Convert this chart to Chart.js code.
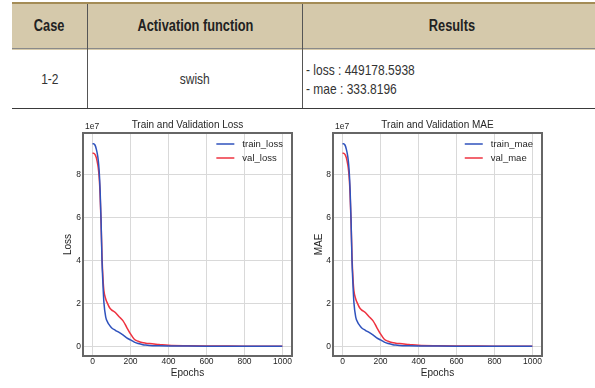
<!DOCTYPE html>
<html>
<head>
<meta charset="utf-8">
<script src="https://cdn.jsdelivr.net/npm/chart.js@4.4.1/dist/chart.umd.min.js"></script>
<style>
  body { margin: 0; width: 595px; height: 388px; background: #fff; position: relative; overflow: hidden;
         font-family: "Liberation Sans", Arial, sans-serif; color: #2a2a2a; }
  .abs { position: absolute; }
  .hdr { left: 12px; top: 2px; width: 590px; height: 46px; background: #d5c9ab; border-top: 2px solid #a48c56; }
  .sep { left: 12px; top: 48px; width: 590px; height: 1px; background: #8a8a8a; }
  .bot { left: 12px; top: 108px; width: 590px; height: 1px; background: #3a3a3a; }
  .vl { top: 4px; width: 1px; height: 104px; background: #555; }
  .cell { display: flex; align-items: center; justify-content: center; }
  .nar { display: inline-block; transform: scaleX(0.8); transform-origin: center; white-space: nowrap; }
  .th { font-weight: bold; font-size: 16px; color: #222; }
  .td { font-size: 15px; color: #333; }
  canvas { position: absolute; top: 110px; }
</style>
</head>
<body>
<div class="abs hdr"></div>
<div class="abs sep"></div>
<div class="abs bot"></div>
<div class="abs vl" style="left:87px"></div>
<div class="abs vl" style="left:302px"></div>

<div class="abs cell th" style="left:12px;top:4px;width:75px;height:44px"><span class="nar">Case</span></div>
<div class="abs cell th" style="left:88px;top:4px;width:214px;height:44px"><span class="nar">Activation function</span></div>
<div class="abs cell th" style="left:303px;top:4px;width:297px;height:44px"><span class="nar">Results</span></div>

<div class="abs cell td" style="left:12px;top:49px;width:75px;height:59px"><span class="nar">1-2</span></div>
<div class="abs cell td" style="left:88px;top:49px;width:214px;height:59px"><span class="nar">swish</span></div>
<div class="abs td" style="left:306px;top:60px;line-height:19px"><span class="nar" style="transform-origin:left">- loss : 449178.5938<br>- mae : 333.8196</span></div>

<canvas id="lossChart" width="305" height="278" style="left:0px"></canvas>
<canvas id="maeChart" width="290" height="278" style="left:305px"></canvas>

<script>
// données (valeurs brutes, axe en 1e7)
var epochs = [0, 5, 10, 15, 20, 25, 30, 35, 40, 45, 50, 55, 60, 70, 80, 90, 100, 120, 140, 160, 180, 200, 220, 240, 260, 280, 300, 350, 400, 500, 600, 700, 800, 900, 999];
var trainLoss = [9.45e7, 9.45e7, 9.42e7, 9.35e7, 9.2e7, 9.0e7, 8.7e7, 8.2e7, 7.3e7, 5.9e7, 4.0e7, 2.9e7, 2.05e7, 1.35e7, 1.12e7, 0.98e7, 0.87e7, 0.75e7, 0.65e7, 0.53e7, 0.40e7, 0.30e7, 0.20e7, 0.13e7, 0.09e7, 0.06e7, 0.045e7, 0.03e7, 0.02e7, 0.012e7, 0.008e7, 0.006e7, 0.005e7, 0.004e7, 0.004e7];
var valLoss = [9.0e7, 9.0e7, 8.98e7, 8.92e7, 8.8e7, 8.6e7, 8.35e7, 7.9e7, 7.1e7, 5.8e7, 4.2e7, 3.2e7, 2.6e7, 2.2e7, 1.98e7, 1.8e7, 1.7e7, 1.58e7, 1.38e7, 1.2e7, 0.89e7, 0.58e7, 0.33e7, 0.24e7, 0.18e7, 0.15e7, 0.13e7, 0.09e7, 0.05e7, 0.025e7, 0.015e7, 0.012e7, 0.01e7, 0.009e7, 0.008e7];
var trainMae = trainLoss.slice(); // les deux graphiques sont identiques
var valMae = valLoss.slice();
var xTicks = [0, 200, 400, 600, 800, 1000];
var yTicks = [0, 2e7, 4e7, 6e7, 8e7];

var txt = '#262626';
var sans = '"Liberation Sans", Arial, sans-serif';

// cadre, titre, "1e7" et légende dessinés à la main (style matplotlib)
var framePlugin = {
    id: 'frame',
    afterDraw: function(chart, args, opts) {
        var ctx = chart.ctx;
        var a = chart.chartArea;
        ctx.save();
        ctx.strokeStyle = '#666';
        ctx.lineWidth = 2;
        ctx.strokeRect(a.left, a.top, a.right - a.left, a.bottom - a.top);

        ctx.fillStyle = txt;
        ctx.font = '8.5px ' + sans;
        ctx.textAlign = 'left';
        ctx.textBaseline = 'bottom';
        ctx.fillText('1e7', a.left + 2, a.top - 2);

        ctx.font = '10px ' + sans;
        ctx.textAlign = 'center';
        ctx.textBaseline = 'middle';
        ctx.fillText(opts.title, (a.left + a.right) / 2, a.top - 8);

        // légende
        ctx.font = '9.5px ' + sans;
        var ds = chart.data.datasets;
        var w = Math.max.apply(null, ds.map(function(d) { return ctx.measureText(d.label).width; }));
        var tx = a.right - 9 - w;
        ds.forEach(function(d, i) {
            var y = a.top + 11 + i * 14;
            ctx.strokeStyle = d.borderColor;
            ctx.lineWidth = 1.5;
            ctx.beginPath();
            ctx.moveTo(tx - 26, y);
            ctx.lineTo(tx - 8, y);
            ctx.stroke();
            ctx.fillStyle = txt;
            ctx.textAlign = 'left';
            ctx.fillText(d.label, tx, y);
        });
        ctx.restore();
    }
};

function makeChart(id, title, yLabel, train, val, trainLabel, valLabel, padL, yWidth, padR) {
    var ctx = document.getElementById(id).getContext('2d');
    return new Chart(ctx, {
        type: 'line',
        data: {
            labels: epochs,
            datasets: [{
                label: trainLabel,
                data: train,
                borderColor: '#2f52bd',
                borderWidth: 1.5,
                pointRadius: 0,
                cubicInterpolationMode: 'monotone'
            }, {
                label: valLabel,
                data: val,
                borderColor: '#ee3340',
                borderWidth: 1.5,
                pointRadius: 0,
                cubicInterpolationMode: 'monotone'
            }]
        },
        options: {
            responsive: false,
            animation: false,
            devicePixelRatio: 1,
            layout: { padding: { left: padL, right: padR, top: 23, bottom: 0 } },
            plugins: {
                legend: { display: false },
                tooltip: { enabled: false },
                frame: { title: title }
            },
            scales: {
                x: {
                    type: 'linear',
                    min: -50,
                    max: 1050,
                    afterBuildTicks: function(s) { s.ticks = xTicks.map(function(v) { return { value: v }; }); },
                    afterFit: function(s) { s.height = 32; },
                    grid: { color: '#d9d9d9', lineWidth: 1, drawTicks: false },
                    border: { display: false },
                    ticks: {
                        color: txt,
                        font: { family: sans, size: 8.5 },
                        padding: 1,
                        maxRotation: 0,
                        callback: function(v) { return String(v); }
                    },
                    title: { display: true, text: 'Epochs', color: txt, font: { family: sans, size: 10 }, padding: { top: 0, bottom: 9 } }
                },
                y: {
                    min: -0.45e7,
                    max: 9.95e7,
                    afterBuildTicks: function(s) { s.ticks = yTicks.map(function(v) { return { value: v }; }); },
                    afterFit: function(s) { s.width = yWidth; },
                    grid: { color: '#d9d9d9', lineWidth: 1, drawTicks: false },
                    border: { display: false },
                    ticks: {
                        color: txt,
                        font: { family: sans, size: 8.5 },
                        padding: 2,
                        callback: function(v) { return String(v / 1e7); }
                    },
                    title: { display: true, text: yLabel, color: txt, font: { family: sans, size: 10 }, padding: { top: 0, bottom: 0 } }
                }
            }
        },
        plugins: [framePlugin]
    });
}

makeChart('lossChart', 'Train and Validation Loss', 'Loss', trainLoss, valLoss, 'train_loss', 'val_loss', 62, 21, 13);
makeChart('maeChart', 'Train and Validation MAE', 'MAE', trainMae, valMae, 'train_mae', 'val_mae', 8, 20, 53);
</script>
</body>
</html>
